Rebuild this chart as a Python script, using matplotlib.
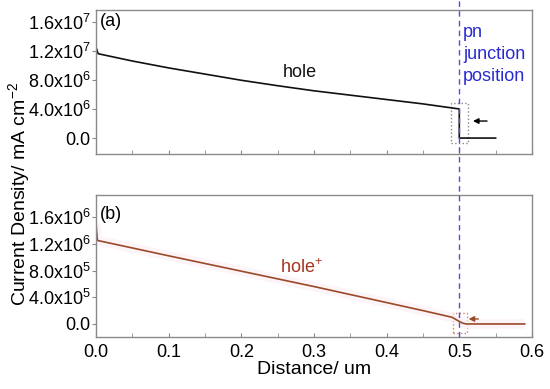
import matplotlib
matplotlib.use("Agg")
import matplotlib.pyplot as plt
from matplotlib.patches import Rectangle
from matplotlib.lines import Line2D
import matplotlib.transforms as mtrans

plt.rcParams['font.family'] = ['Liberation Sans', 'DejaVu Sans']
plt.rcParams['mathtext.fontset'] = 'custom'
plt.rcParams['mathtext.rm'] = 'Liberation Sans'
plt.rcParams['mathtext.it'] = 'Liberation Sans:italic'

# ---- data ----
dist_a = [0.0, 0.003, 0.05, 0.1, 0.15, 0.2, 0.25, 0.3, 0.35, 0.4, 0.45, 0.5, 0.5, 0.55]
hole_a = [1.25e7, 1.16e7, 1.06e7, 9.65e6, 8.8e6, 7.95e6, 7.2e6, 6.5e6, 5.9e6,
          5.3e6, 4.7e6, 4.0e6, 0.0, 0.0]

dist_b = [0.0, 0.002, 0.1, 0.2, 0.3, 0.4, 0.45, 0.49, 0.498, 0.505, 0.51, 0.59]
hole_b = [1.5e6, 1.25e6, 1.02e6, 7.9e5, 5.6e5, 3.2e5, 2.0e5, 1.0e5, 5e4, 1e4, 0.0, 0.0]

xticks = [0.0, 0.1, 0.2, 0.3, 0.4, 0.5, 0.6]
xticklabels = ['0.0', '0.1', '0.2', '0.3', '0.4', '0.5', '0.6']
yticks_a = [0.0, 4.0e6, 8.0e6, 1.2e7, 1.6e7]
yticklabels_a = ['0.0', r'4.0x10$^{\mathregular{6}}$', r'8.0x10$^{\mathregular{6}}$',
                 r'1.2x10$^{\mathregular{7}}$', r'1.6x10$^{\mathregular{7}}$']
yticks_b = [0.0, 4.0e5, 8.0e5, 1.2e6, 1.6e6]
yticklabels_b = ['0.0', r'4.0x10$^{\mathregular{5}}$', r'8.0x10$^{\mathregular{5}}$',
                 r'1.2x10$^{\mathregular{6}}$', r'1.6x10$^{\mathregular{6}}$']
junction_x = 0.5

fig = plt.figure(figsize=(5.5, 3.89), dpi=100)
ax_a = fig.add_axes([0.1745, 0.604, 0.7927, 0.370])
ax_b = fig.add_axes([0.1745, 0.1337, 0.7927, 0.365])

spine_col = '#8a8a8a'
brown = '#9a4a28'
fs = 13

for ax in (ax_a, ax_b):
    ax.set_xlim(0, 0.6)
    for s in ax.spines.values():
        s.set_color(spine_col)
        s.set_linewidth(1.0)
    ax.set_xticks(xticks)
    ax.set_xticks([0.05, 0.15, 0.25, 0.35, 0.45, 0.55], minor=True)
    ax.tick_params(axis='x', which='both', direction='in', length=3, color=spine_col,
                   labelsize=fs, pad=5, top=False)
    ax.tick_params(axis='y', which='both', direction='out', length=3, color=spine_col,
                   labelsize=fs, pad=1, right=False)

# panel (a)
ax_a.set_ylim(-2.2e6, 1.76e7)
ax_a.set_yticks(yticks_a)
ax_a.set_yticklabels(yticklabels_a)
ax_a.set_xticklabels([])
ax_a.plot(dist_a, hole_a, color='#111111', lw=1.2)
ax_a.text(0.28, 8.97e6, 'hole', fontsize=fs, ha='center', va='center', color='#111111')
ax_a.text(0.006, 1.6e7, '(a)', fontsize=fs, ha='left', va='center')
ax_a.add_patch(Rectangle((0.4885, -7.3e5), 0.0238, 5.6e6, fill=False, ls=':',
                         ec='#888888', lw=1.0))
ax_a.annotate('', xy=(0.515, 2.34e6), xytext=(0.542, 2.34e6),
              arrowprops=dict(arrowstyle='-|>', color='black', lw=1.0, mutation_scale=8))
ax_a.text(0.505, 1.57e7, 'pn\njunction\nposition', fontsize=fs, color='#2a2ad0',
          ha='left', va='top', linespacing=1.38)

# panel (b)
ax_b.set_ylim(-1.95e5, 1.93e6)
ax_b.set_yticks(yticks_b)
ax_b.set_yticklabels(yticklabels_b)
ax_b.set_xticklabels(xticklabels)
ax_b.plot(dist_b, hole_b, color='#fdeef3', lw=7, alpha=0.6, solid_capstyle='butt')
ax_b.plot(dist_b, hole_b, color=brown, lw=1.2)
ax_b.text(0.283, 8.4e5, r'hole$^{\mathregular{+}}$', fontsize=fs, ha='center', va='center',
          color='#a8351e')
ax_b.text(0.006, 1.64e6, '(b)', fontsize=fs, ha='left', va='center')
ax_b.add_patch(Rectangle((0.4917, -1.4e5), 0.019, 3.0e5, fill=False, ls=':',
                         ec='#d08070', lw=1.0))
ax_b.annotate('', xy=(0.509, 7.5e4), xytext=(0.53, 7.5e4),
              arrowprops=dict(arrowstyle='-|>', color=brown, lw=1.0, mutation_scale=8))

# pn junction dashed line across both panels
trans = mtrans.blended_transform_factory(ax_b.transData, fig.transFigure)
fig.add_artist(Line2D([junction_x, junction_x], [1 - 337 / 389, 1.0], transform=trans,
                      color='#5050d8', ls=(0, (4, 3)), lw=1.0))

ax_b.set_xlabel('Distance/ um', fontsize=14, labelpad=0)
fig.text(0.035, 0.5, r'Current Density/ mA cm$^{\mathregular{-2}}$', rotation=90,
         fontsize=14, ha='center', va='center')

fig.savefig('out.png', dpi=100)
